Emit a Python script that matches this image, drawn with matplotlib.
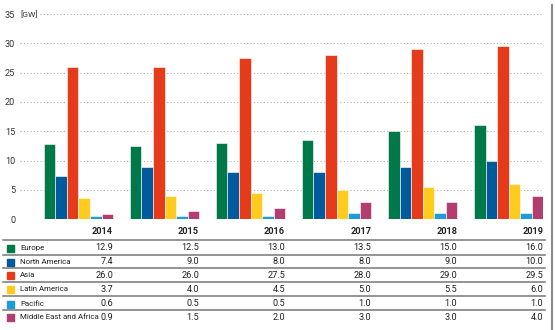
import numpy as np
import matplotlib
matplotlib.use("Agg")
import matplotlib.pyplot as plt
from matplotlib.lines import Line2D
from matplotlib.transforms import blended_transform_factory

plt.rcParams['font.family'] = ['Roboto', 'DejaVu Sans']

years = ['2014', '2015', '2016', '2017', '2018', '2019']
regions = ['Europe', 'North America', 'Asia', 'Latin America', 'Pacific', 'Middle East and Africa']
europe = [12.9, 12.5, 13.0, 13.5, 15.0, 16.0]
north_america = [7.4, 9.0, 8.0, 8.0, 9.0, 10.0]
asia = [26.0, 26.0, 27.5, 28.0, 29.0, 29.5]
latin_america = [3.7, 4.0, 4.5, 5.0, 5.5, 6.0]
pacific = [0.6, 0.5, 0.5, 1.0, 1.0, 1.0]
mea = [0.9, 1.5, 2.0, 3.0, 3.0, 4.0]
series = [europe, north_america, asia, latin_america, pacific, mea]
colors = ['#00794a', '#005a9c', '#e53b1b', '#ffcb1f', '#1b9ddb', '#b23e6f']

W, H = 555, 330
fig = plt.figure(figsize=(W / 100, H / 100), dpi=100)

def fx(px):
    return px / W

def fy(py):
    return 1 - py / H

ax = fig.add_axes([fx(20), fy(219.3), fx(543) - fx(20), fy(14) - fy(219.3)])

x = np.arange(len(years))
w = 0.134
for k, (vals, c) in enumerate(zip(series, colors)):
    ax.bar(x + (k - 2.5) * w, vals, w, color=c, edgecolor='white', linewidth=0.4, zorder=3)

ax.set_xlim(-0.68, 5.40)
ax.set_ylim(0, 35)
ax.set_yticks(range(0, 36, 5))
ax.set_yticklabels([str(v) for v in range(0, 36, 5)], fontsize=6.6, color='#333333')
ax.tick_params(axis='y', length=0, pad=3.5)
ax.set_xticks([])
for s in ax.spines.values():
    s.set_visible(False)
ax.grid(axis='y', color='#b0b0b0', linestyle=(0, (1, 2)), linewidth=0.8, zorder=1)

ax.text(0.0, 35, '[GW]', transform=blended_transform_factory(ax.transAxes, ax.transData),
        fontsize=6, color='#333333', ha='left', va='center',
        bbox=dict(boxstyle='square,pad=0.25', fc='white', ec='none'), zorder=4)

# table under the chart
tr = blended_transform_factory(ax.transData, fig.transFigure)
right_edges = x + 3 * w
for i, yr in enumerate(years):
    fig.text(right_edges[i], fy(232), yr, transform=tr, ha='right', va='center',
             fontsize=6.6, fontweight='bold', color='#222222')

row_y = [248, 262, 275, 289, 304, 317]
for r, (name, vals, c) in enumerate(zip(regions, series, colors)):
    fig.patches.append(plt.Rectangle((fx(7), fy(row_y[r]) - 3.5 / H), 6.5 / W, 7 / H,
                                     transform=fig.transFigure, color=c, figure=fig))
    fig.text(fx(20), fy(row_y[r]), name, ha='left', va='center', fontsize=5.7, color='#222222')
    for i, v in enumerate(vals):
        fig.text(right_edges[i], fy(row_y[r]), f'{v:.1f}', transform=tr, ha='right',
                 va='center', fontsize=6.6, color='#222222')

for ly in [240, 255, 268, 282, 296, 310]:
    fig.add_artist(Line2D([fx(3), fx(545)], [fy(ly), fy(ly)], transform=fig.transFigure,
                          color='#777777', linewidth=1.1))

fig.add_artist(Line2D([fx(551.5), fx(551.5)], [fy(5), fy(330)], transform=fig.transFigure,
                      color='#8a8a8a', linewidth=1.5))

fig.savefig('out.png', dpi=100)
